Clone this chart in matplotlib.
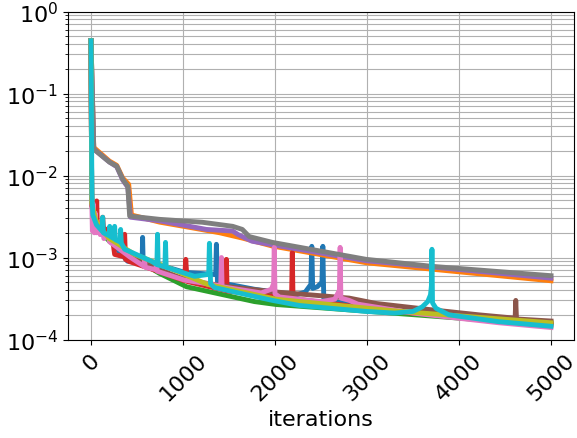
import matplotlib
matplotlib.use("Agg")
import matplotlib.pyplot as plt

# ---- data (iteration, loss) ----
blue_it = [0, 8, 50, 100, 200, 300, 398, 555, 561, 567, 658, 1016, 1355, 1363, 1375, 1776, 2231, 2330, 2390, 2400, 2410, 2460, 2510, 2520, 2530, 2650, 3272, 5000]
blue_v = [0.44, 0.0045, 0.0029, 0.0023, 0.0018, 0.0012, 0.00090, 0.00088, 0.00176, 0.00087, 0.00087, 0.00066, 0.00062, 0.00145, 0.00050, 0.00041, 0.00035, 0.00038, 0.00047, 0.00137, 0.00042, 0.00044, 0.00050, 0.00137, 0.00032, 0.00029, 0.00022, 0.00016]

orange_it = [0, 30, 200, 280, 345, 410, 440, 745, 1100, 1400, 1650, 1970, 3000, 5000]
orange_v = [0.44, 0.022, 0.0150, 0.0133, 0.0093, 0.0078, 0.0033, 0.0027, 0.0023, 0.0020, 0.00172, 0.00138, 0.00086, 0.00052]

green_it = [0, 8, 40, 94, 203, 420, 745, 1038, 1776, 2014, 3272, 5000]
green_v = [0.44, 0.0045, 0.0028, 0.0021, 0.00157, 0.00106, 0.00064, 0.00044, 0.00029, 0.000267, 0.000210, 0.000150]

red_it = [0, 8, 55, 62, 68, 120, 127, 135, 225, 257, 344, 366, 375, 420, 745, 1016, 1030, 1045, 1465, 1472, 1480, 2180, 2188, 2196, 3272, 5000]
red_v = [0.44, 0.0043, 0.0028, 0.0049, 0.0027, 0.0024, 0.0031, 0.0023, 0.0020, 0.00109, 0.00103, 0.00192, 0.00095, 0.00089, 0.00067, 0.00052, 0.00095, 0.00051, 0.000395, 0.00095, 0.00039, 0.00032, 0.00115, 0.000315, 0.00022, 0.000155]

purple_it = [0, 30, 200, 280, 345, 400, 430, 745, 1255, 1540, 1600, 1750, 1970, 3000, 5000]
purple_v = [0.44, 0.021, 0.0146, 0.0128, 0.0088, 0.0072, 0.0031, 0.0028, 0.0022, 0.0021, 0.0019, 0.00158, 0.00143, 0.00091, 0.00056]

brown_it = [0, 8, 50, 100, 200, 420, 745, 1038, 1500, 2000, 2806, 3100, 3706, 4215, 4610, 4617, 4625, 5000]
brown_v = [0.44, 0.0044, 0.0027, 0.0022, 0.0017, 0.00112, 0.00071, 0.00053, 0.00044, 0.00038, 0.00032, 0.000275, 0.00023, 0.000200, 0.000182, 0.00030, 0.000178, 0.000168]

pink_it = [0, 8, 15, 25, 35, 45, 60, 80, 100, 120, 140, 180, 203, 257, 420, 575, 582, 590, 705, 713, 720, 1016, 1410, 1418, 1425, 1850, 1960, 1985, 1992, 2000, 2050, 2500, 2650, 2700, 2708, 2716, 2806, 2900, 3500, 4432, 5000]
pink_v = [0.44, 0.0050, 0.0021, 0.0045, 0.0020, 0.0035, 0.0020, 0.0026, 0.0019, 0.0023, 0.0017, 0.0019, 0.00155, 0.0014, 0.00102, 0.00078, 0.00095, 0.00076, 0.00071, 0.00087, 0.00068, 0.00053, 0.00045, 0.00100, 0.00044, 0.00037, 0.00041, 0.00048, 0.00133, 0.00036, 0.00033, 0.00029, 0.00031, 0.00040, 0.00133, 0.00032, 0.00030, 0.00027, 0.00021, 0.00016, 0.00014]

gray_it = [0, 30, 200, 280, 345, 400, 420, 745, 1210, 1540, 1645, 1720, 1970, 2990, 3706, 5000]
gray_v = [0.44, 0.021, 0.0146, 0.0130, 0.0090, 0.0074, 0.0032, 0.00292, 0.00269, 0.0024, 0.0022, 0.0018, 0.00153, 0.00095, 0.00078, 0.00060]

olive_it = [0, 8, 50, 100, 200, 474, 832, 1266, 2014, 3272, 3600, 5000]
olive_v = [0.44, 0.0046, 0.0029, 0.0023, 0.0017, 0.00109, 0.00076, 0.00047, 0.00031, 0.000225, 0.00021, 0.000160]

cyan_it = [0, 10, 20, 60, 120, 127, 135, 195, 203, 210, 250, 257, 265, 315, 322, 330, 366, 658, 716, 723, 730, 803, 810, 817, 1125, 1266, 1280, 1287, 1300, 1341, 1971, 2264, 2990, 3300, 3500, 3600, 3660, 3690, 3700, 3706, 3712, 3750, 3890, 4432, 5000]
cyan_v = [0.44, 0.0059, 0.0033, 0.0025, 0.0021, 0.0031, 0.0020, 0.00185, 0.0024, 0.0018, 0.0017, 0.0024, 0.00165, 0.00155, 0.0022, 0.0015, 0.00126, 0.00090, 0.00082, 0.00192, 0.00081, 0.00077, 0.00153, 0.00076, 0.00059, 0.00062, 0.00066, 0.00149, 0.00048, 0.00043, 0.00030, 0.00026, 0.00022, 0.00021, 0.00022, 0.00025, 0.00029, 0.00035, 0.00045, 0.00126, 0.00028, 0.00024, 0.00020, 0.000165, 0.000145]

series = [
    (blue_it, blue_v, "tab:blue"),
    (orange_it, orange_v, "tab:orange"),
    (green_it, green_v, "tab:green"),
    (red_it, red_v, "tab:red"),
    (purple_it, purple_v, "tab:purple"),
    (brown_it, brown_v, "tab:brown"),
    (pink_it, pink_v, "tab:pink"),
    (gray_it, gray_v, "tab:gray"),
    (olive_it, olive_v, "tab:olive"),
    (cyan_it, cyan_v, "tab:cyan"),
]

x_ticks = [0, 1000, 2000, 3000, 4000, 5000]

plt.rcParams["font.size"] = 16

fig = plt.figure(figsize=(5.77, 4.39), dpi=100)
ax = fig.add_axes([68 / 577, 1 - 340.5 / 439, (574 - 68) / 577, (340.5 - 12.5) / 439])

for it, v, c in series:
    ax.plot(it, v, color=c, linewidth=3.5)

ax.set_yscale("log")
ax.set_ylim(1e-4, 1e0)
ax.set_xlim(-250, 5250)
ax.set_xticks(x_ticks)
ax.tick_params(axis="x", labelrotation=45)
ax.grid(True, which="both")
ax.set_xlabel("iterations")

fig.savefig("out.png", dpi=100)
